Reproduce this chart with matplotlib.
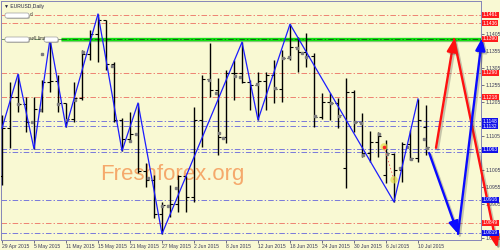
import matplotlib
matplotlib.use('Agg')
import matplotlib.pyplot as plt
import matplotlib.patheffects as pe
import matplotlib.transforms as mtransforms
from matplotlib.patches import FancyBboxPatch
import numpy as np

plt.rcParams['font.family'] = ['Liberation Sans', 'DejaVu Sans']
plt.rcParams['lines.scale_dashes'] = False

# EURUSD daily bars, 29 Apr 2015 .. 13 Jul 2015
opens = [1.0985, 1.1128, 1.1220, 1.1198, 1.1146, 1.1183, 1.1262, 1.1266, 1.1200, 1.1155,
         1.1215, 1.1345, 1.1405, 1.1445, 1.1315, 1.1150, 1.1095, 1.1110, 1.1000, 1.0975,
         1.0874, 1.0900, 1.0905, 1.0985, 1.0925, 1.1150, 1.1271, 1.1240, 1.1101, 1.1289,
         1.1290, 1.1262, 1.1255, 1.1265, 1.1283, 1.1242, 1.1332, 1.1365, 1.1350, 1.1340,
         1.1160, 1.1205, 1.1200, 1.1010, 1.1233, 1.1145, 1.1055, 1.1085, 1.0990, 1.1050,
         1.1005, 1.1080, 1.1040, 1.1130]
highs = [1.1165, 1.1263, 1.1286, 1.1219, 1.1219, 1.1269, 1.1389, 1.1283, 1.1201, 1.1263,
         1.1357, 1.1416, 1.1463, 1.1445, 1.1321, 1.1157, 1.1174, 1.1201, 1.1024, 1.0990,
         1.0911, 1.0961, 1.0988, 1.0986, 1.1189, 1.1283, 1.1377, 1.1274, 1.1298, 1.1327,
         1.1380, 1.1270, 1.1292, 1.1292, 1.1327, 1.1357, 1.1433, 1.1395, 1.1407, 1.1348,
         1.1230, 1.1230, 1.1216, 1.1274, 1.1239, 1.1172, 1.1119, 1.1116, 1.1092, 1.1054,
         1.1086, 1.1122, 1.1213, 1.1195]
lows = [1.0960, 1.1069, 1.1174, 1.1116, 1.1066, 1.1174, 1.1233, 1.1174, 1.1130, 1.1145,
        1.1210, 1.1327, 1.1321, 1.1298, 1.1145, 1.1060, 1.1086, 1.0995, 1.0954, 1.0863,
        1.0816, 1.0866, 1.0880, 1.0880, 1.0910, 1.1072, 1.1219, 1.1048, 1.1083, 1.1210,
        1.1260, 1.1180, 1.1151, 1.1180, 1.1201, 1.1204, 1.1327, 1.1292, 1.1307, 1.1130,
        1.1154, 1.1151, 1.1127, 1.0951, 1.1116, 1.1042, 1.1027, 1.1042, 1.0966, 1.0910,
        1.0969, 1.1033, 1.1027, 1.1048]
closes = [1.1128, 1.1220, 1.1198, 1.1146, 1.1183, 1.1262, 1.1266, 1.1200, 1.1155, 1.1215,
          1.1345, 1.1405, 1.1445, 1.1315, 1.1150, 1.1095, 1.1110, 1.1000, 1.0975, 1.0874,
          1.0900, 1.0905, 1.0985, 1.0925, 1.1150, 1.1271, 1.1240, 1.1101, 1.1289, 1.1290,
          1.1262, 1.1255, 1.1265, 1.1283, 1.1242, 1.1332, 1.1365, 1.1350, 1.1340, 1.1160,
          1.1205, 1.1200, 1.1165, 1.1233, 1.1145, 1.1055, 1.1085, 1.1105, 1.1055, 1.1005,
          1.1080, 1.1040, 1.1151, 1.1072]

date_labels = ['29 Apr 2015', '5 May 2015', '11 May 2015', '15 May 2015', '21 May 2015',
               '27 May 2015', '2 Jun 2015', '8 Jun 2015', '12 Jun 2015', '18 Jun 2015',
               '24 Jun 2015', '30 Jun 2015', '6 Jul 2015', '10 Jul 2015']

# zigzag swing points (bar index, price)
zigzag_idx = [0, 2, 4, 6, 8, 12, 15, 17, 20, 30, 32, 36, 49, 52]
zigzag_price = [1.1127, 1.1286, 1.1066, 1.1389, 1.1130, 1.1463, 1.1060, 1.1201,
                1.0816, 1.1380, 1.1151, 1.1433, 1.0910, 1.1213]

# indicator squares
dot_idx = [2, 3.75, 4.75, 5, 7, 8.1, 9.1, 10.1, 13.75, 16, 16.75, 18.25, 20, 20.75, 21.75,
           25.9, 26.75, 27.1, 27.6, 29.1, 29.75, 31.9, 34.1, 35.1, 35.9, 36.9, 37.5, 38,
           39.1, 41.1, 42.1, 44.1, 44.9, 45.1, 47.1, 48.1, 49.75, 50.6, 51.1, 52.75, 53.1]
dot_price = [1.1198, 1.1145, 1.1180, 1.1345, 1.1198, 1.1151, 1.1210, 1.1351, 1.1310, 1.1089,
             1.1110, 1.0980, 1.0898, 1.0898, 1.0951, 1.1269, 1.1230, 1.1113, 1.1098, 1.1280,
             1.1277, 1.1257, 1.1245, 1.1333, 1.1336, 1.1363, 1.1348, 1.1336, 1.1163, 1.1201,
             1.1163, 1.1145, 1.1142, 1.1048, 1.1110, 1.1051, 1.1010, 1.1072, 1.1036, 1.1095,
             1.1069]

red_levels = [1.1461, 1.1436, 1.1290, 1.1218, 1.0849]
blue_levels = [1.1148, 1.1132, 1.1066, 1.1058, 1.0916, 1.0819]
green_level = 1.1390
red_tags = [1.1461, 1.1436, 1.1390, 1.1290, 1.1218, 1.0849]
blue_tags = [1.1148, 1.1132, 1.1063, 1.0916, 1.0819]
# scale labels not hidden behind the level tags
price_ticks = [1.0805, 1.0905, 1.0955, 1.1005, 1.1105,
               1.1205, 1.1255, 1.1305, 1.1355, 1.1405]

# forecast paths
red_arrow_idx = [54.25, 56.5, 61.9]
red_arrow_price = [1.1069, 1.1389, 1.0775]
blue_arrow_idx = [53.4, 57.0, 60.0]
blue_arrow_price = [1.1054, 1.0816, 1.1392]

trade_idx = [47.75, 49.0]
trade_price = [1.1072, 1.0975]

BG = '#f9f9d3'
FRAME = '#8686b8'
TXT = '#3a3a58'

fig = plt.figure(figsize=(5, 2.5), dpi=100, facecolor=BG)
ax = fig.add_axes([1 / 500, 10 / 250, 480 / 500, 239 / 250], facecolor=BG)
ax.set_xlim(-0.125, 59.875)
ax.set_ylim(1.0798, 1.1501)

dd = (0, (4, 1.5, 1, 1.5))
for lv in red_levels:
    ax.axhline(lv, color='#ec6f62', lw=0.6, ls=dd, zorder=1)
for lv in blue_levels:
    ax.axhline(lv, color='#6464dc', lw=0.6, ls=dd, zorder=1)

# sell limit level
glow = [pe.SimpleLineShadow(offset=(0, -1), shadow_color='#4a8a4a', alpha=0.5), pe.Normal()]
ax.axhline(green_level, color='#3a6a3a', lw=0.5, ls=dd, zorder=1)
ax.hlines(green_level, 7.4, 59.875, color='#10e010', lw=2.4, zorder=2, path_effects=glow)
ax.hlines(green_level, 7.4, 59.875, color='#1c4a1c', lw=0.6, ls=dd, zorder=2)

# watermark
ax.text(12.3, 1.0974, 'Freshforex.org', fontsize=16, color='#f5a060', alpha=0.9,
        ha='left', va='baseline', zorder=1)

x = np.arange(len(opens))
ax.vlines(x, lows, highs, color='black', lw=1.0, zorder=3)
ax.hlines(opens, x - 0.35, x, color='black', lw=0.8, zorder=3)
ax.hlines(closes, x, x + 0.35, color='black', lw=0.8, zorder=3)
ax.plot(dot_idx, dot_price, 's', ms=1.6, color='#7c7c7c', ls='none', zorder=3)

ax.plot(zigzag_idx, zigzag_price, color='#1c1cff', lw=0.9, zorder=4)

ax.scatter(trade_idx, trade_price, s=28, color='#e4e04c', alpha=0.7, edgecolor='none', zorder=4)
ax.plot(trade_idx, trade_price, color='#ff5050', ls=':', lw=0.6, zorder=4)
ax.plot(trade_idx[0], trade_price[0], 'o', ms=1.6, color='#ff2020', zorder=5)

shadow = [pe.SimpleLineShadow(offset=(1.3, -1.3), shadow_color='#404040', alpha=0.28), pe.Normal()]


def forecast(xs, ys, color):
    for i in range(len(xs) - 1):
        ann = ax.annotate('', xy=(xs[i + 1], ys[i + 1]), xytext=(xs[i], ys[i]),
                          arrowprops=dict(arrowstyle='-|>,head_length=0.8,head_width=0.32',
                                          color=color, lw=1.7, shrinkA=0, shrinkB=0,
                                          mutation_scale=9),
                          annotation_clip=False, zorder=6)
        ann.arrow_patch.set_clip_on(False)
        ann.arrow_patch.set_path_effects(shadow)


forecast(red_arrow_idx, red_arrow_price, '#ff1010')
forecast(blue_arrow_idx, blue_arrow_price, '#0a0aff')

# axes styling
for s in ax.spines.values():
    s.set_color(FRAME)
    s.set_linewidth(0.7)
ax.yaxis.tick_right()
ax.set_yticks(price_ticks)
ax.set_yticklabels([f'{p:.4f}' for p in price_ticks])
ax.set_xticks(range(0, 4 * len(date_labels), 4))
ax.set_xticklabels(date_labels, ha='left')
ax.tick_params(axis='both', labelsize=3.6, colors=TXT, length=2, width=0.5, pad=1)
for t in ax.get_xticklines() + ax.get_yticklines():
    t.set_color(FRAME)

trans = mtransforms.blended_transform_factory(ax.transAxes, ax.transData)
for lv in red_tags:
    ax.text(1.004, lv, f'{lv:.4f}', transform=trans, fontsize=3.5, color='white',
            ha='left', va='center', clip_on=False, zorder=10,
            bbox=dict(boxstyle='square,pad=0.1', fc='#ff1c1c', ec='none'))
for lv in blue_tags:
    ax.text(1.004, lv, f'{lv:.4f}', transform=trans, fontsize=3.5, color='white',
            ha='left', va='center', clip_on=False, zorder=10,
            bbox=dict(boxstyle='square,pad=0.1', fc='#1010e8', ec='none'))

ax.text(0.006, 0.988, '\u25bc EURUSD,Daily', transform=ax.transAxes, fontsize=3.6,
        color='#202040', ha='left', va='top')

# object label buttons in the top-left corner (figure pixels)
pix = mtransforms.IdentityTransform()
for bx, by, bw in [(6, 233, 22), (6, 209, 22), (45, 209, 12)]:
    fig.add_artist(FancyBboxPatch((bx + 1, by - 1), bw, 3, boxstyle='round,pad=1,rounding_size=2',
                                  transform=pix, fc='#8a8a8a', ec='none', alpha=0.6))
    fig.add_artist(FancyBboxPatch((bx, by), bw, 3, boxstyle='round,pad=1,rounding_size=2',
                                  transform=pix, fc='white', ec='#a0a0a0', lw=0.5))
fig.text(30 / 500, 1 - 15 / 250, 'd', fontsize=3.4, color='#303030', va='center')
fig.text(29 / 500, 1 - 39 / 250, 'sell limi', fontsize=3.4, color='#303030', va='center')

fig.savefig('out.png', dpi=100, facecolor=BG)
